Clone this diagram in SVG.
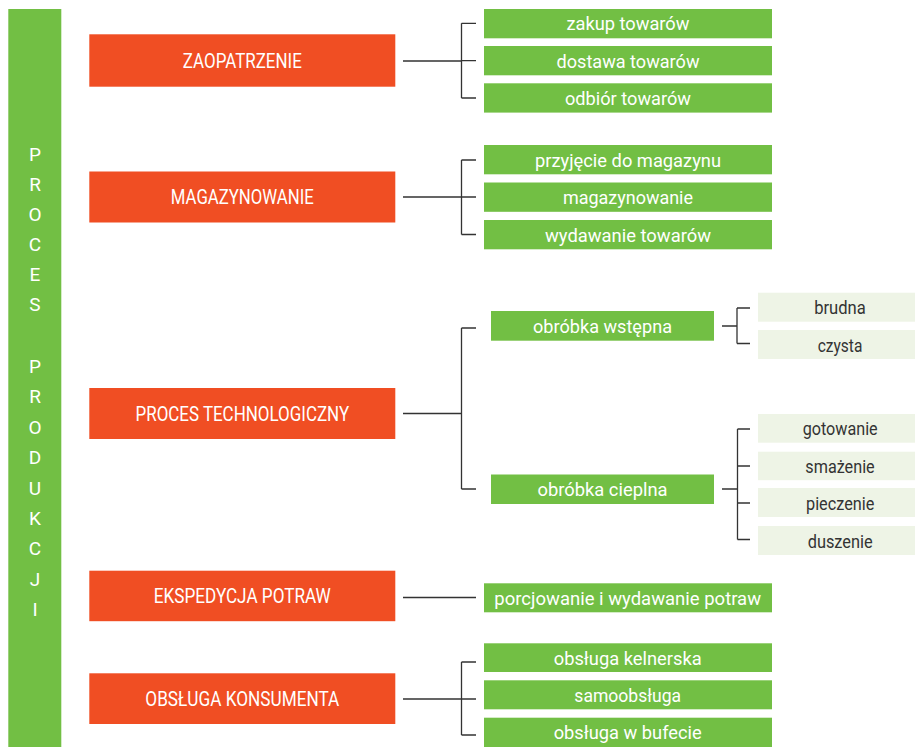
<svg xmlns="http://www.w3.org/2000/svg" width="915" height="747" viewBox="0 0 915 747">
<style>
.bar{fill:#72bf44}
.or{fill:#f04e23}
.gr{fill:#72bf44}
.lt{fill:#eef4e6}
.ot{font-family:Roboto,"Liberation Sans",sans-serif;font-size:19.5px;fill:#ffffff;text-anchor:middle}
.gt{font-family:Roboto,"Liberation Sans",sans-serif;font-size:18.5px;fill:#ffffff;text-anchor:middle}
.lx{font-family:Roboto,"Liberation Sans",sans-serif;font-size:18.5px;fill:#333333;text-anchor:middle}
.vt{font-family:Roboto,"Liberation Sans",sans-serif;font-size:19px;fill:#ffffff;text-anchor:middle}
.cn{fill:none;stroke:#333333;stroke-width:1.3}
</style>
<rect width="915" height="747" fill="#ffffff"/>
<g id="proces-produkcji">
<rect class="bar" x="8.3" y="9" width="53" height="738"/>
<text class="vt" x="35" y="161">P</text>
<text class="vt" x="35" y="191">R</text>
<text class="vt" x="35" y="221">O</text>
<text class="vt" x="35" y="251">C</text>
<text class="vt" x="35" y="281">E</text>
<text class="vt" x="35" y="311">S</text>
<text class="vt" x="35" y="373">P</text>
<text class="vt" x="35" y="403.4">R</text>
<text class="vt" x="35" y="433.8">O</text>
<text class="vt" x="35" y="464.2">D</text>
<text class="vt" x="35" y="494.6">U</text>
<text class="vt" x="35" y="525">K</text>
<text class="vt" x="35" y="555.4">C</text>
<text class="vt" x="35" y="585.8">J</text>
<text class="vt" x="35" y="616.2">I</text>
</g>
<g id="connectors">
<path class="cn" d="M403 61 H461.5 M461.5 23.3 V98 M461.5 23.3 H476 M461.5 60.7 H476 M461.5 98 H476"/>
<path class="cn" d="M403 197 H461.5 M461.5 160 V234.5 M461.5 160 H476 M461.5 197 H476 M461.5 234.5 H476"/>
<path class="cn" d="M403 413.5 H461.5 M461.5 328 V489 M461.5 328 H476 M461.5 489 H476"/>
<path class="cn" d="M722 326 H737 M737 308 V343.5 M737 308 H750 M737 343.5 H750"/>
<path class="cn" d="M722 489 H737.5 M737.5 429 V539.5 M737.5 429 H750 M737.5 466 H750 M737.5 503 H750 M737.5 539.5 H750"/>
<path class="cn" d="M403 597.5 H476"/>
<path class="cn" d="M403 699 H461.5 M461.5 662 V735 M461.5 662 H476 M461.5 699 H476 M461.5 735 H476"/>
</g>
<g id="zaopatrzenie">
<rect class="or" x="89.3" y="34.3" width="306" height="52.4"/>
<text class="ot" x="242.3" y="67.7" textLength="119" lengthAdjust="spacingAndGlyphs">ZAOPATRZENIE</text>
</g>
<g id="zakup-towarow"><rect class="gr" x="484" y="9" width="288" height="29.3"/><text class="gt" x="628" y="30.3" textLength="123" lengthAdjust="spacingAndGlyphs">zakup towarów</text></g>
<g id="dostawa-towarow"><rect class="gr" x="484" y="46" width="288" height="29.3"/><text class="gt" x="628" y="67.7" textLength="143" lengthAdjust="spacingAndGlyphs">dostawa towarów</text></g>
<g id="odbior-towarow"><rect class="gr" x="484" y="83.3" width="288" height="29.3"/><text class="gt" x="628" y="105" textLength="126" lengthAdjust="spacingAndGlyphs">odbiór towarów</text></g>
<g id="magazynowanie-main">
<rect class="or" x="89.3" y="171.5" width="306" height="51"/>
<text class="ot" x="242.3" y="204.2" textLength="143" lengthAdjust="spacingAndGlyphs">MAGAZYNOWANIE</text>
</g>
<g id="przyjecie"><rect class="gr" x="484" y="145" width="288" height="29.3"/><text class="gt" x="628" y="166.5" textLength="186" lengthAdjust="spacingAndGlyphs">przyjęcie do magazynu</text></g>
<g id="magazynowanie"><rect class="gr" x="484" y="182.5" width="288" height="29.3"/><text class="gt" x="628" y="204" textLength="130" lengthAdjust="spacingAndGlyphs">magazynowanie</text></g>
<g id="wydawanie-towarow"><rect class="gr" x="484" y="220" width="288" height="29.3"/><text class="gt" x="628" y="241.5" textLength="166" lengthAdjust="spacingAndGlyphs">wydawanie towarów</text></g>
<g id="proces-technologiczny">
<rect class="or" x="89.3" y="388" width="306" height="51"/>
<text class="ot" x="242.3" y="420.8" textLength="213.6" lengthAdjust="spacingAndGlyphs">PROCES TECHNOLOGICZNY</text>
</g>
<g id="obrobka-wstepna"><rect class="gr" x="491" y="311" width="223" height="29.7"/><text class="gt" x="602.5" y="333" textLength="139" lengthAdjust="spacingAndGlyphs">obróbka wstępna</text></g>
<g id="obrobka-cieplna"><rect class="gr" x="491" y="474.5" width="223" height="29.5"/><text class="gt" x="602.5" y="496.3" textLength="130" lengthAdjust="spacingAndGlyphs">obróbka cieplna</text></g>
<g id="brudna"><rect class="lt" x="758" y="292.7" width="157" height="29"/><text class="lx" x="840" y="314.2" textLength="51.7" lengthAdjust="spacingAndGlyphs">brudna</text></g>
<g id="czysta"><rect class="lt" x="758" y="330" width="157" height="29"/><text class="lx" x="840" y="351.5" textLength="44.7" lengthAdjust="spacingAndGlyphs">czysta</text></g>
<g id="gotowanie"><rect class="lt" x="758" y="414" width="157" height="28.7"/><text class="lx" x="840.2" y="435.3" textLength="75" lengthAdjust="spacingAndGlyphs">gotowanie</text></g>
<g id="smazenie"><rect class="lt" x="758" y="451.7" width="157" height="28.5"/><text class="lx" x="840" y="472.8" textLength="69.4" lengthAdjust="spacingAndGlyphs">smażenie</text></g>
<g id="pieczenie"><rect class="lt" x="758" y="488" width="157" height="29"/><text class="lx" x="840.2" y="509.5" textLength="68.3" lengthAdjust="spacingAndGlyphs">pieczenie</text></g>
<g id="duszenie"><rect class="lt" x="758" y="526" width="157" height="29"/><text class="lx" x="840.2" y="547.5" textLength="65" lengthAdjust="spacingAndGlyphs">duszenie</text></g>
<g id="ekspedycja-potraw">
<rect class="or" x="89.3" y="570.7" width="306" height="50.5"/>
<text class="ot" x="242.3" y="603.4" textLength="177" lengthAdjust="spacingAndGlyphs">EKSPEDYCJA POTRAW</text>
</g>
<g id="porcjowanie"><rect class="gr" x="484" y="583.3" width="288" height="29"/><text class="gt" x="627.7" y="604.8" textLength="266.7" lengthAdjust="spacingAndGlyphs">porcjowanie i wydawanie potraw</text></g>
<g id="obsluga-konsumenta">
<rect class="or" x="89.3" y="673.3" width="306" height="50.7"/>
<text class="ot" x="242.3" y="706" textLength="194" lengthAdjust="spacingAndGlyphs">OBSŁUGA KONSUMENTA</text>
</g>
<g id="obsluga-kelnerska"><rect class="gr" x="484" y="643.3" width="288" height="28.7"/><text class="gt" x="627.7" y="664.7" textLength="148" lengthAdjust="spacingAndGlyphs">obsługa kelnerska</text></g>
<g id="samoobsluga"><rect class="gr" x="484" y="680.3" width="288" height="29"/><text class="gt" x="627.7" y="701.8" textLength="106.7" lengthAdjust="spacingAndGlyphs">samoobsługa</text></g>
<g id="obsluga-w-bufecie"><rect class="gr" x="484" y="717.7" width="288" height="29.3"/><text class="gt" x="627.7" y="739.2" textLength="148" lengthAdjust="spacingAndGlyphs">obsługa w bufecie</text></g>
</svg>
